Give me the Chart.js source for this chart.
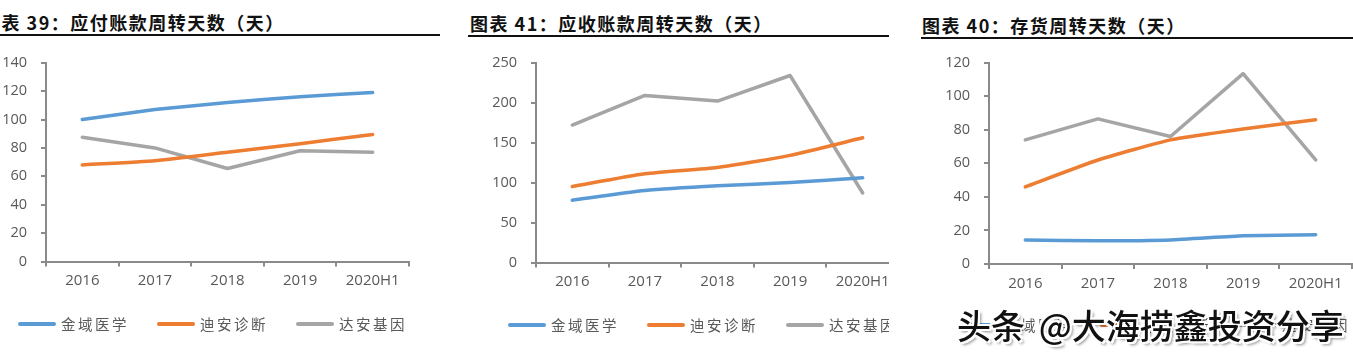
<!DOCTYPE html>
<html><head><meta charset="utf-8">
<script src="https://cdn.jsdelivr.net/npm/chart.js@4/dist/chart.umd.min.js"></script>
<style>
html,body{margin:0;padding:0;background:#fff;}
body{width:1353px;height:357px;position:relative;overflow:hidden;font-family:"Noto Sans CJK SC",sans-serif;}
.panel{position:absolute;top:0;height:357px;overflow:hidden;}
.inner{position:absolute;top:0;width:470px;height:357px;}
.title{position:absolute;font-weight:bold;font-size:18px;line-height:24px;color:#111;white-space:nowrap;letter-spacing:1.5px;}
.rule{position:absolute;left:0;height:2px;background:#111;width:470px;}
canvas{position:absolute;left:0;top:40px;}
.lg{position:absolute;left:0;width:470px;height:24px;}
.lgi{position:absolute;top:0;height:24px;white-space:nowrap;}
.lgs{position:absolute;left:0;top:10px;width:38px;height:4px;border-radius:2px;}
.lgt{position:absolute;left:43px;top:0;line-height:24px;font-size:14.5px;letter-spacing:2.5px;color:#595959;}
.wm{position:absolute;left:957px;top:305px;font-size:34px;line-height:40px;font-weight:500;color:#111;white-space:pre;word-spacing:6px;font-family:"Noto Sans CJK SC",sans-serif;
text-shadow:1px 1px 0 #fff,-1px -1px 0 #fff,1px -1px 0 #fff,-1px 1px 0 #fff,2px 2px 0 #fff,-2px -2px 0 #fff,2px -2px 0 #fff,-2px 2px 0 #fff,3px 3px 3px rgba(0,0,0,.45);}
</style></head>
<body>
<div class="panel" style="left:0;width:440px;"><div class="inner" style="left:-22px;">
  <div class="title" style="left:4px;top:10px;">图表 39：应付账款周转天数（天）</div>
  <div class="rule" style="top:34px;"></div>
  <canvas id="c1" width="470" height="317"></canvas>
  <div class="lg" id="l1" style="top:312px;"></div>
</div></div>
<div class="panel" style="left:468px;width:421px;"><div class="inner" style="left:0;">
  <div class="title" style="left:2px;top:11px;">图表 41：应收账款周转天数（天）</div>
  <div class="rule" style="top:35px;"></div>
  <canvas id="c2" width="470" height="317"></canvas>
  <div class="lg" id="l2" style="top:312.5px;"></div>
</div></div>
<div class="panel" style="left:921px;width:432px;"><div class="inner" style="left:0;">
  <div class="title" style="left:1px;top:13px;">图表 40：存货周转天数（天）</div>
  <div class="rule" style="top:37px;"></div>
  <canvas id="c3" width="470" height="317"></canvas>
  <div class="lg" id="l3" style="top:313px;"></div>
</div></div>
<div class="wm">头条 @大海捞鑫投资分享</div>
<script>
// Categories and series names
const categories = ['2016', '2017', '2018', '2019', '2020H1'];
const seriesNames = ['金域医学', '迪安诊断', '达安基因'];

// 应付账款周转天数
const payableJinyu = [100, 107, 112, 116, 119];
const payableDian = [68, 71, 77, 83, 89.5];
const payableDaan = [87.5, 80, 65.5, 78, 77];

// 应收账款周转天数
const receivableJinyu = [78, 90, 96, 100, 106];
const receivableDian = [95, 111, 119, 134, 156];
const receivableDaan = [172, 209, 202, 234, 87];

// 存货周转天数
const inventoryJinyu = [14.3, 13.8, 14.3, 16.8, 17.5];
const inventoryDian = [46, 62, 74, 80.5, 86];
const inventoryDaan = [74, 86.5, 76, 113.5, 62];

// Y tick labels
const payableTicks = [0, 20, 40, 60, 80, 100, 120, 140];
const receivableTicks = [0, 50, 100, 150, 200, 250];
const inventoryTicks = [0, 20, 40, 60, 80, 100, 120];

const colors = ['#5B9BD5', '#ED7D31', '#A5A5A5'];
const axisColor = '#8a8a8a';

function buildLegend(id, chart) {
  const el = document.getElementById(id);
  chart.data.datasets.forEach((ds, i) => {
    const item = document.createElement('div');
    item.className = 'lgi';
    item.style.left = (40 + i * 139) + 'px';
    const sw = document.createElement('div');
    sw.className = 'lgs';
    sw.style.background = ds.borderColor;
    const tx = document.createElement('div');
    tx.className = 'lgt';
    tx.textContent = ds.label;
    item.appendChild(sw); item.appendChild(tx);
    el.appendChild(item);
  });
}

function makeChart(id, series, ticks, padTop, padBottom, tension) {
  const step = ticks[1] - ticks[0];
  return new Chart(document.getElementById(id), {
    type: 'line',
    data: {
      labels: categories,
      datasets: series.map((d, i) => ({
        label: seriesNames[i], data: d,
        borderColor: colors[i], backgroundColor: colors[i],
        borderWidth: 3.5, pointRadius: 0, pointHoverRadius: 0,
        borderCapStyle: 'round', borderJoinStyle: 'round',
        tension: tension[i]
      }))
    },
    options: {
      responsive: false, animation: false,
      layout: {padding: {top: padTop, bottom: padBottom, left: 0, right: 39}},
      plugins: {legend: {display: false}, tooltip: {enabled: false}},
      scales: {
        x: {
          offset: true,
          grid: {offset: true, drawOnChartArea: false, drawTicks: true, tickLength: 5, color: axisColor, lineWidth: 2},
          border: {color: axisColor, width: 2},
          ticks: {color: '#595959', font: {family: 'Open Sans', size: 15}, padding: 5.5, maxRotation: 0},
          afterFit(s) { s.height = 24; }
        },
        y: {
          min: ticks[0], max: ticks[ticks.length - 1],
          grid: {drawOnChartArea: false, drawTicks: true, tickLength: 5, color: axisColor, lineWidth: 2},
          border: {color: axisColor, width: 2},
          ticks: {stepSize: step, color: '#595959', font: {family: 'Open Sans', size: 14.5}, padding: 14},
          afterFit(s) { s.width = 68; }
        }
      }
    }
  });
}

const ch1 = makeChart('c1', [payableJinyu, payableDian, payableDaan], payableTicks, 18.5, 71.5, [0.15, 0.15, 0]);
const ch2 = makeChart('c2', [receivableJinyu, receivableDian, receivableDaan], receivableTicks, 19, 70.5, [0.2, 0.2, 0]);
const ch3 = makeChart('c3', [inventoryJinyu, inventoryDian, inventoryDaan], inventoryTicks, 21, 69, [0.15, 0.15, 0]);
buildLegend('l1', ch1);
buildLegend('l2', ch2);
buildLegend('l3', ch3);
</script>
</body></html>
